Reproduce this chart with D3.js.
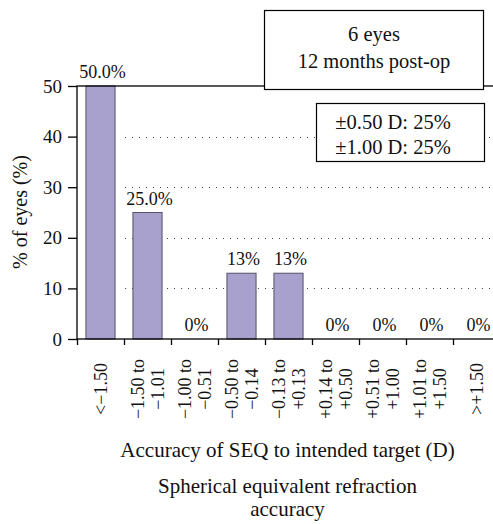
<!DOCTYPE html>
<html lang="en">
<head>
    <meta charset="utf-8">
    <script src="https://cdn.jsdelivr.net/npm/d3@7"></script>
    <style>
        body { margin: 0; background: #fff; }
        svg { display: block; }
        text { font-family: "Liberation Serif", "Times New Roman", serif; fill: #111; }
        .grid line { stroke: #444; stroke-dasharray: 1, 6; }
        .frame { fill: none; stroke: #000; stroke-width: 1.3; }
    </style>
</head>
<body>
<div id="chart"></div>
<script type="text/javascript">
    // data
    var categories = [
        ["<\u22121.50"],
        ["\u22121.50 to", "\u22121.01"],
        ["\u22121.00 to", "\u22120.51"],
        ["\u22120.50 to", "\u22120.14"],
        ["\u22120.13 to", "+0.13"],
        ["+0.14 to", "+0.50"],
        ["+0.51 to", "+1.00"],
        ["+1.01 to", "+1.50"],
        [">+1.50"]
    ];
    var values = [50, 25, 0, 13, 13, 0, 0, 0, 0];
    var barLabels = ["50.0%", "25.0%", "0%", "13%", "13%", "0%", "0%", "0%", "0%"];
    var yTicks = [0, 10, 20, 30, 40, 50];
    var gridTicks = [10, 20, 30, 40];
    var infoLines = ["6 eyes", "12 months post-op"];
    var accuracyLines = ["\u00b10.50 D: 25%", "\u00b11.00 D: 25%"];

    var width = 493, height = 524;
    var plot = {left: 77, right: 500, top: 86, bottom: 339};
    var numSize = 18;     // ticks, bar and category labels
    var titleSize = 21;   // x axis titles
    var boxSize = 20.5;   // text in the boxes

    var svg = d3.select("#chart").append("svg")
        .attr("width", width)
        .attr("height", height);

    var x = d3.scaleBand()
        .domain(d3.range(categories.length))
        .range([plot.left, plot.right])
        .paddingInner(0.38)
        .paddingOuter(0.19);

    // category boundaries for the tick marks
    var xEdge = d3.scaleLinear()
        .domain([0, categories.length])
        .range([plot.left, plot.right]);

    var y = d3.scaleLinear()
        .domain([0, 50])
        .range([plot.bottom, plot.top]);

    // dotted grid
    svg.append("g")
        .attr("class", "grid")
        .selectAll("line")
        .data(gridTicks)
        .enter().append("line")
        .attr("x1", xEdge(1) + 1)
        .attr("x2", width)
        .attr("y1", function(d) { return Math.round(y(d)) + 0.5; })
        .attr("y2", function(d) { return Math.round(y(d)) + 0.5; });

    // bars
    svg.append("g")
        .selectAll("rect")
        .data(values)
        .enter().append("rect")
        .attr("x", function(d, i) { return x(i); })
        .attr("y", function(d) { return y(d); })
        .attr("width", x.bandwidth())
        .attr("height", function(d) { return y(0) - y(d); })
        .style("fill", "#a8a1cd")
        .style("stroke", "#55536a")
        .style("stroke-width", 1);

    // frame
    svg.append("rect")
        .attr("class", "frame")
        .attr("x", plot.left)
        .attr("y", plot.top)
        .attr("width", plot.right - plot.left)
        .attr("height", plot.bottom - plot.top);

    // y axis
    var yAxis = svg.append("g")
        .attr("transform", "translate(" + plot.left + ",0)")
        .call(d3.axisLeft(y).tickValues(yTicks).tickSize(9).tickPadding(6));
    yAxis.select(".domain").remove();
    yAxis.selectAll("line").attr("stroke", "#000").attr("stroke-width", 1.3);
    yAxis.selectAll("text")
        .style("font-family", "Liberation Serif, serif")
        .style("font-size", "19px")
        .attr("fill", "#111");

    // x axis ticks at category edges
    var xAxis = svg.append("g")
        .attr("transform", "translate(0," + plot.bottom + ")")
        .call(d3.axisBottom(xEdge).tickValues(d3.range(categories.length)).tickSize(6).tickFormat(""));
    xAxis.select(".domain").remove();
    xAxis.selectAll("line").attr("stroke", "#000").attr("stroke-width", 1.3);

    // category labels, rotated
    var lineGap = 20;
    svg.append("g")
        .selectAll("text")
        .data(categories)
        .enter().append("text")
        .attr("transform", function(d, i) {
            return "translate(" + (x(i) + x.bandwidth() / 2) + ",389) rotate(-90)";
        })
        .style("font-size", numSize + "px")
        .attr("text-anchor", "middle")
        .each(function(d) {
            var t = d3.select(this);
            d.forEach(function(line, j) {
                t.append("tspan")
                    .attr("x", 0)
                    .attr("y", 6 + (j - (d.length - 1) / 2) * lineGap)
                    .text(line);
            });
        });

    // value labels above bars
    svg.append("g")
        .selectAll("text")
        .data(values)
        .enter().append("text")
        .attr("x", function(d, i) { return x(i) + x.bandwidth() / 2 + 2; })
        .attr("y", function(d) { return y(d) - 8; })
        .attr("text-anchor", "middle")
        .style("font-size", numSize + "px")
        .text(function(d, i) { return barLabels[i]; });

    // axis titles
    svg.append("text")
        .attr("transform", "translate(27,212) rotate(-90)")
        .attr("text-anchor", "middle")
        .style("font-size", "20px")
        .text("% of eyes (%)");

    var midX = (plot.left + plot.right) / 2 - 1;
    svg.append("text")
        .attr("x", midX)
        .attr("y", 457)
        .attr("text-anchor", "middle")
        .style("font-size", titleSize + "px")
        .text("Accuracy of SEQ to intended target (D)");

    svg.append("text")
        .attr("x", midX)
        .attr("y", 493)
        .attr("text-anchor", "middle")
        .style("font-size", titleSize + "px")
        .text("Spherical equivalent refraction");

    svg.append("text")
        .attr("x", midX)
        .attr("y", 516)
        .attr("text-anchor", "middle")
        .style("font-size", titleSize + "px")
        .text("accuracy");

    // info boxes
    function infoBox(x0, y0, w, h, lines, tx, baselines) {
        var g = svg.append("g");
        g.append("rect")
            .attr("x", x0 + 0.5)
            .attr("y", y0 + 0.5)
            .attr("width", w)
            .attr("height", h)
            .style("fill", "#fff")
            .style("stroke", "#000")
            .style("stroke-width", 1.2);
        g.selectAll("text")
            .data(lines)
            .enter().append("text")
            .attr("x", tx)
            .attr("y", function(d, i) { return baselines[i]; })
            .attr("text-anchor", "middle")
            .style("font-size", boxSize + "px")
            .text(function(d) { return d; });
    }
    infoBox(264, 10, 219, 79, infoLines, 374, [41, 68]);
    infoBox(316, 103, 168, 58, accuracyLines, 393, [129, 154]);
</script>
</body>
</html>
